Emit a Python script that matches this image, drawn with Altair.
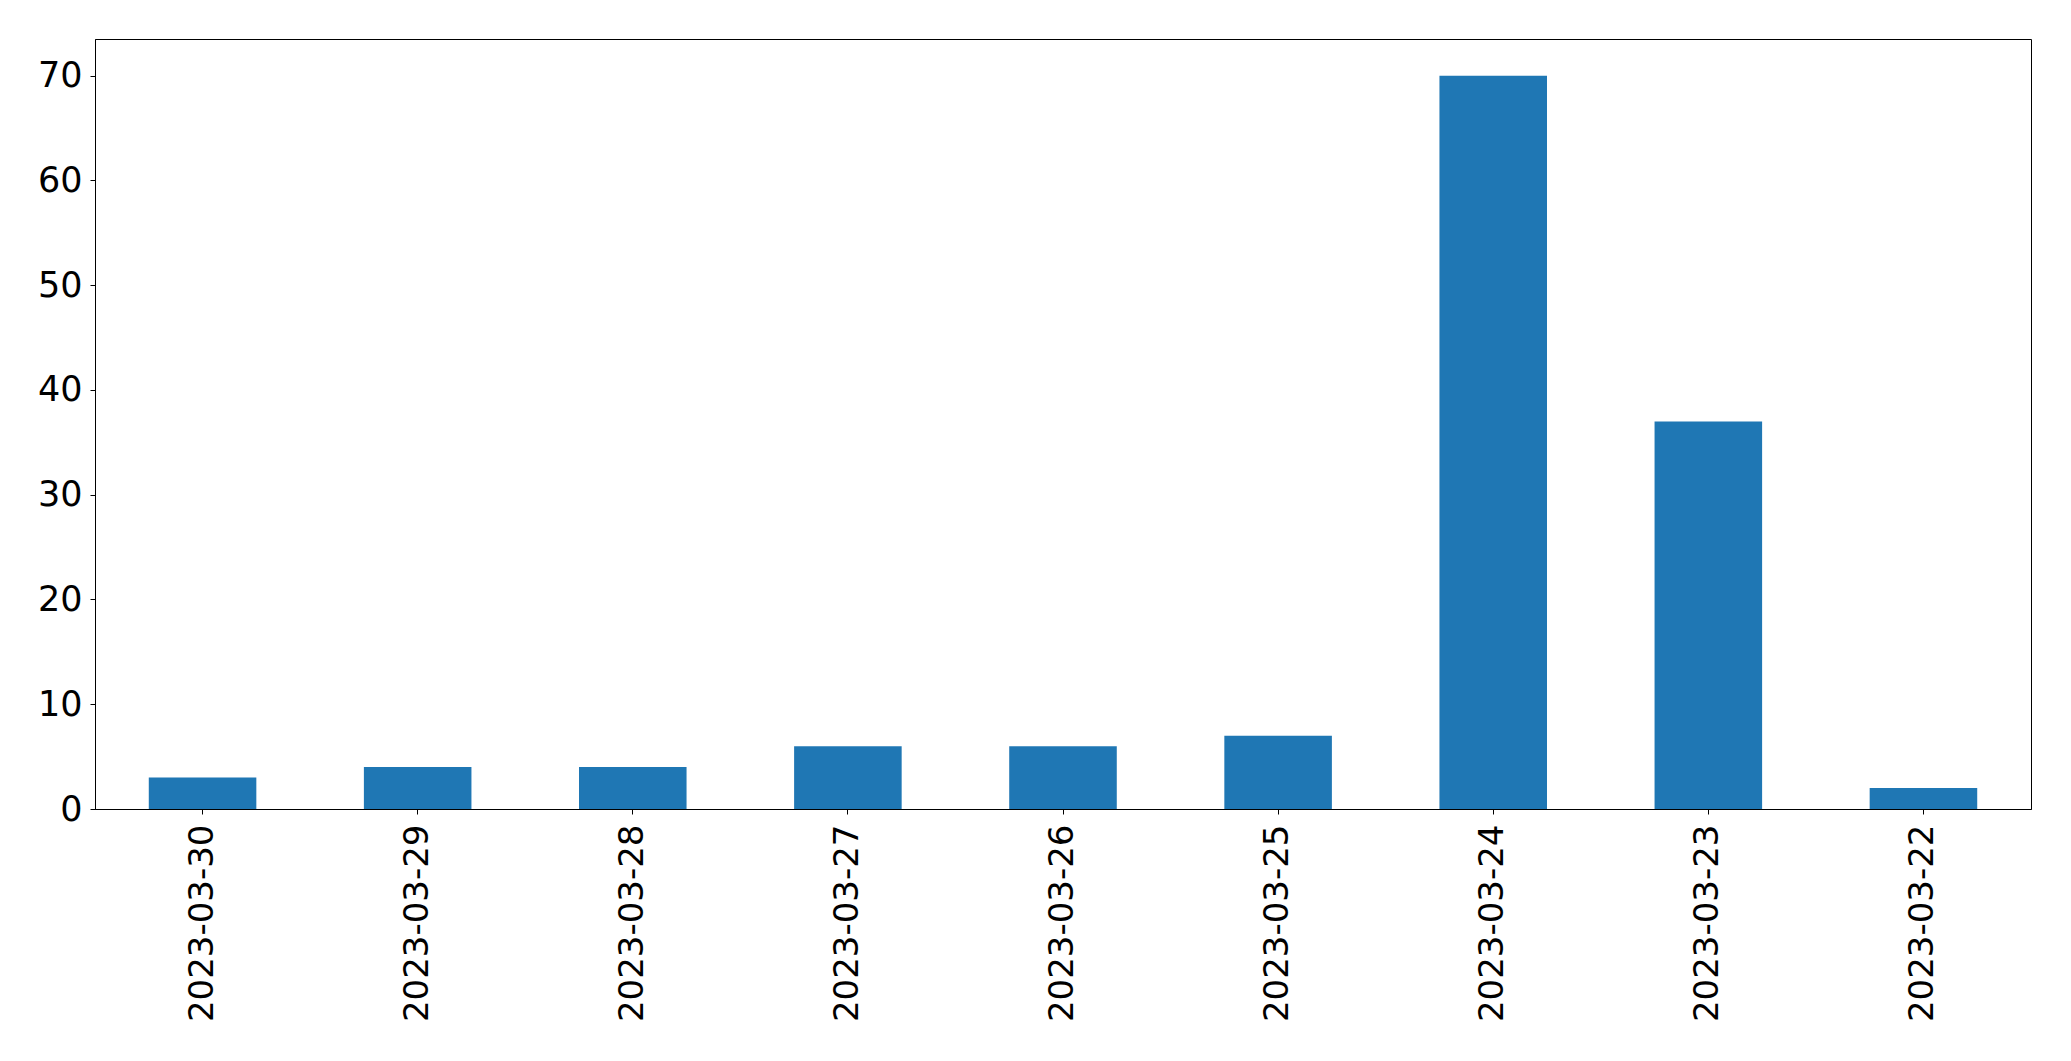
import altair as alt
import pandas as pd

dates = ["2023-03-30", "2023-03-29", "2023-03-28", "2023-03-27", "2023-03-26",
         "2023-03-25", "2023-03-24", "2023-03-23", "2023-03-22"]
counts = [3, 4, 4, 6, 6, 7, 70, 37, 2]
y_ticks = [0, 10, 20, 30, 40, 50, 60, 70]

df = pd.DataFrame({"date": dates, "count": counts})

chart = alt.Chart(df).mark_bar(color="#1f77b4").encode(
    x=alt.X("date:N", sort=None, title=None,
            scale=alt.Scale(paddingInner=0.5, paddingOuter=0.25),
            axis=alt.Axis(labelAngle=270, labelFontSize=34, labelFont="DejaVu Sans",
                          labelColor="black", tickColor="black", tickSize=5,
                          labelPadding=10, labelLimit=0, domainColor="black", grid=False)),
    y=alt.Y("count:Q", title=None,
            scale=alt.Scale(domain=[0, 73.5], nice=False, zero=True),
            axis=alt.Axis(values=y_ticks, labelFontSize=35, labelFont="DejaVu Sans",
                          labelColor="black", tickColor="black", tickSize=5,
                          labelPadding=8, domainColor="black", grid=False)),
).properties(
    width=1936, height=770,
    autosize=alt.AutoSizeParams(type="none"),
    padding={"left": 87, "top": 31, "right": 20, "bottom": 230},
).configure_view(
    stroke="black", strokeWidth=1
).configure_axis(
    domainWidth=1, tickWidth=1
)

chart.save("out.html", embed_options={"renderer": "svg", "actions": False})
